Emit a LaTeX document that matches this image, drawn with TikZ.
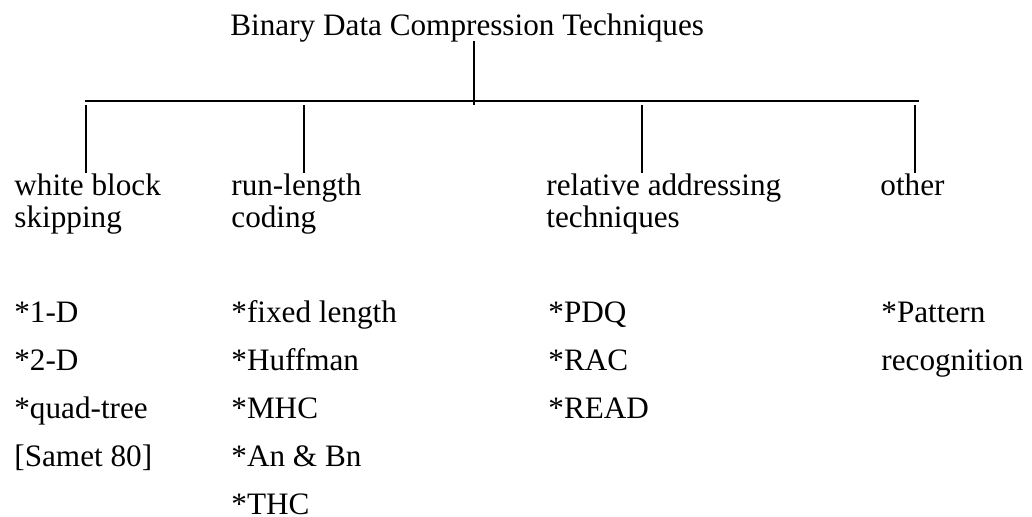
\documentclass[tikz,border=0pt]{standalone}
\usepackage{fontspec}
\setmainfont{Liberation Serif}
\begin{document}
\begin{tikzpicture}[x=0.5pt, y=-0.5pt,
  lbl/.style={anchor=base west, inner sep=0pt, align=left,
    font=\fontsize{15.6}{16}\selectfont},
  items/.style={lbl, font=\fontsize{15.6}{24}\selectfont},
  stem/.style={line width=1.3pt},
  bar/.style={line width=1pt}]
  \useasboundingbox (0,0) rectangle (1032,516);

  % Root and its stem
  \node[lbl] (root) at (230,35) {Binary Data Compression Techniques};
  \coordinate (top) at (474,41);
  \coordinate (hub) at (474,105);
  \draw[stem] (top) -- (hub);

  % Cross bar
  \coordinate (barL) at (85,101);
  \coordinate (barR) at (919,101);
  \draw[bar] (barL) -- (barR);

  % Branch headings (base = last line)
  \node[lbl] (wbs) at (14,227) {white block\\skipping};
  \node[lbl] (rlc) at (231,227) {run-length\\coding};
  \node[lbl] (rat) at (546,227) {relative addressing\\techniques};
  \node[lbl] (oth) at (880,195) {other};

  % Branch stems
  \coordinate (b1) at (86,105);
  \coordinate (b2) at (304,105);
  \coordinate (b3) at (642,105);
  \coordinate (b4) at (915,105);
  \draw[stem] (b1) -- (b1 |- wbs.north);
  \draw[stem] (b2) -- (b2 |- rlc.north);
  \draw[stem] (b3) -- (b3 |- rat.north);
  \draw[stem] (b4) -- (b4 |- oth.north);

  % Method lists, 48 units per line
  \node[items] (wbs-list) at (14,466) {*1-D\\*2-D\\*quad-tree\\{[Samet 80]}};
  \node[items] (rlc-list) at (231,514) {*fixed length\\*Huffman\\*MHC\\*An \& Bn\\*THC};
  \node[items] (rat-list) at (548,418) {*PDQ\\*RAC\\*READ};
  \node[items] (oth-list) at (881,370) {*Pattern\\recognition};
\end{tikzpicture}
\end{document}
